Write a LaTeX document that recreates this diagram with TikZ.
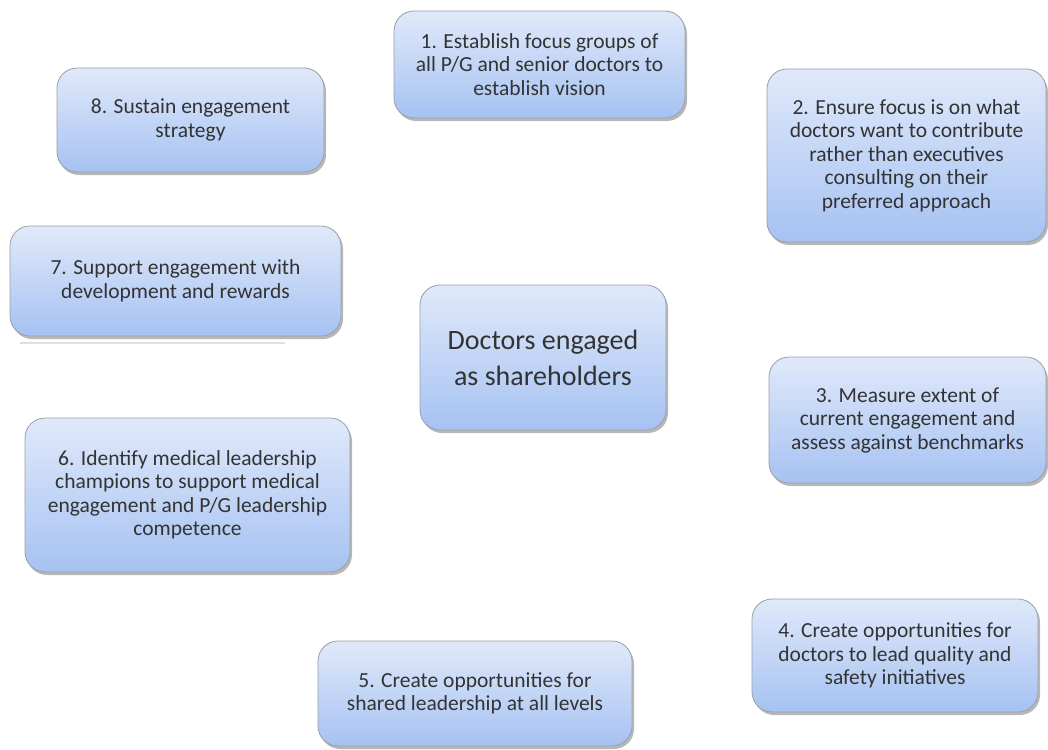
\documentclass[tikz,border=0pt]{standalone}
\usepackage{fontspec}
\setmainfont{Carlito}
\usetikzlibrary{shadows}
\definecolor{boxtop}{HTML}{E0E9FA}
\definecolor{boxbot}{HTML}{A6C2F2}
\definecolor{boxline}{HTML}{9A9EA6}
\definecolor{txt}{HTML}{333333}
\tikzset{
  card/.style={rectangle, rounded corners=20pt, draw=boxline, line width=0.8pt,
    top color=boxtop, bottom color=boxbot, text=txt, align=center,
    inner sep=0pt, font=\fontsize{21.5}{23.5}\selectfont,
    drop shadow={shadow xshift=2pt, shadow yshift=-3pt, opacity=0.4, fill=black!70}},
}
\begin{document}
\begin{tikzpicture}[x=1pt,y=-1pt]
\useasboundingbox (0,0) rectangle (1048,749);
\node[card, minimum width=291pt, minimum height=107pt] (n1) at (539.5,64.5)
  {1. Establish focus groups of\\all P/G and senior doctors to\\establish vision};
\node[card, minimum width=279pt, minimum height=173pt] (n2) at (906.5,155.5)
  {2. Ensure focus is on what\\doctors want to contribute\\rather than executives\\consulting on their\\preferred approach};
\node[card, minimum width=277pt, minimum height=126pt] (n3) at (907.5,420)
  {3. Measure extent of\\current engagement and\\assess against benchmarks};
\node[card, minimum width=286pt, minimum height=113pt] (n4) at (895,655.5)
  {4. Create opportunities for\\doctors to lead quality and\\safety initiatives};
\node[card, minimum width=314pt, minimum height=105pt] (n5) at (475,693.5)
  {5. Create opportunities for\\shared leadership at all levels};
\node[card, minimum width=325pt, minimum height=154pt] (n6) at (187.5,495)
  {6. Identify medical leadership\\champions to support medical\\engagement and P/G leadership\\competence};
\node[card, minimum width=331pt, minimum height=110pt] (n7) at (175.5,281)
  {7. Support engagement with\\development and rewards};
\node[card, minimum width=267pt, minimum height=104pt] (n8) at (190.5,120)
  {8. Sustain engagement\\strategy};
\node[card, minimum width=246pt, minimum height=145pt, font=\fontsize{28}{36}\selectfont] (c) at (543,357.5)
  {Doctors engaged\\as shareholders};
\coordinate (la) at (20,343);
\coordinate (lb) at (285,343);
\draw[black!12, line width=1.2pt] (la) -- (lb);
\end{tikzpicture}
\end{document}
